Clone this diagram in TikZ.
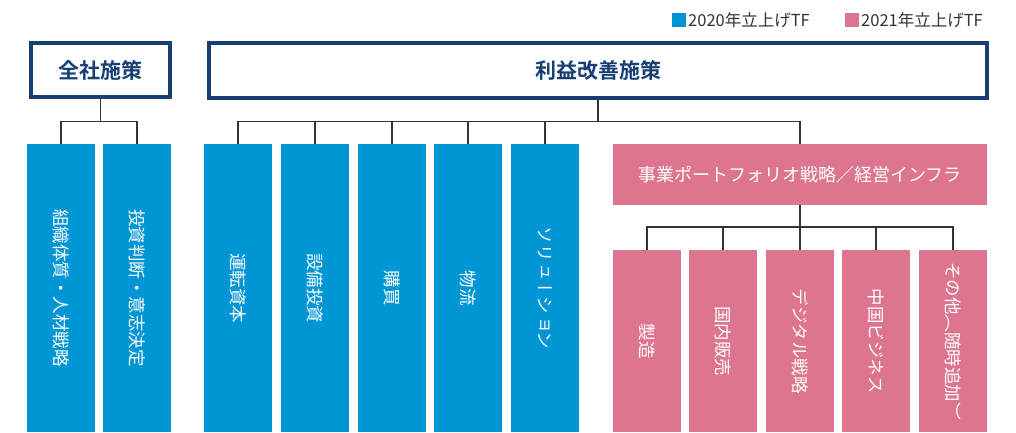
\documentclass[tikz,border=0pt]{standalone}
\usepackage{fontspec}
\usepackage{graphicx}
\setmainfont{Noto Sans CJK JP}
\newfontfamily\jp{Noto Sans CJK JP}
\newfontfamily\jpb{Noto Sans CJK JP Bold}
\newfontfamily\vjp[Vertical=RotatedGlyphs,RawFeature=+vert]{Noto Sans CJK JP}
\definecolor{tfblue}{HTML}{0096D6}
\definecolor{tfpink}{HTML}{DD758E}
\definecolor{navy}{HTML}{173F74}
\definecolor{linegray}{HTML}{333333}
\newcommand{\vtext}[1]{\rotatebox{-90}{\vjp\fontsize{17.5}{18}\selectfont #1}}
\begin{document}
\begin{tikzpicture}[x=1pt,y=-1pt,
  headbox/.style={draw=navy,line width=4pt,fill=white,inner sep=0pt,anchor=north west,
    font=\jpb\fontsize{21}{24}\selectfont,text=navy},
  bluebox/.style={fill=tfblue,inner sep=0pt,anchor=north west,text=white,
    minimum width=68pt},
  pinkbox/.style={fill=tfpink,inner sep=0pt,anchor=north west,text=white,
    minimum width=68pt},
  legendtext/.style={anchor=west,inner sep=0pt,font=\jp\fontsize{16.5}{18}\selectfont,text=linegray},
  conn/.style={draw=linegray,line width=1.8pt}]
\useasboundingbox (0,0) rectangle (1016,432);
% legend
\fill[tfblue] (672,13) rectangle (686,27);
\node[legendtext] (lg1) at (688,20) {2020年立上げTF};
\fill[tfpink] (845,13) rectangle (859,27);
\node[legendtext] (lg2) at (861,20) {2021年立上げTF};
% head boxes
\node[headbox,minimum width=139pt,minimum height=54pt] (zen) at (29,41) {全社施策};
\node[headbox,minimum width=778pt,minimum height=55pt] (rie) at (207,41) {利益改善施策};
% left blue boxes
\node[bluebox,minimum height=288pt] (a1) at (27,144) {\vtext{組織体質・人材戦略}};
\node[bluebox,minimum height=288pt] (a2) at (103,144) {\vtext{投資判断・意志決定}};
% middle blue boxes
\node[bluebox,minimum height=288pt] (b1) at (204,144) {\vtext{運転資本}};
\node[bluebox,minimum height=288pt] (b2) at (281,144) {\vtext{設備投資}};
\node[bluebox,minimum height=288pt] (b3) at (358,144) {\vtext{購買}};
\node[bluebox,minimum height=288pt] (b4) at (434,144) {\vtext{物流}};
\node[bluebox,minimum height=288pt] (b5) at (511,144) {\vtext{ソリューション}};
% pink
\node[pinkbox,minimum width=374pt,minimum height=61pt,font=\jp\fontsize{18}{20}\selectfont] (jig) at (613,144) {事業ポートフォリオ戦略／経営インフラ};
\node[pinkbox,minimum height=182pt] (c1) at (613,250) {\vtext{製造}};
\node[pinkbox,minimum height=182pt] (c2) at (689,250) {\vtext{国内販売}};
\node[pinkbox,minimum height=182pt] (c3) at (766,250) {\vtext{デジタル戦略}};
\node[pinkbox,minimum height=182pt] (c4) at (842,250) {\vtext{中国ビジネス}};
\node[pinkbox,minimum height=182pt] (c5) at (919,250) {\vtext{その他（随時追加）}};
% connectors
\draw[conn] (zen.south) -- (zen.south |- 0,121.5);
\draw[conn] (a1.north) -- (a1.north |- 0,121.5) -- (a2.north |- 0,121.5) -- (a2.north);
\draw[conn] (rie.south) -- (rie.south |- 0,121.5);
\draw[conn] (b1.north) -- (b1.north |- 0,121.5) -- (jig.north |- 0,121.5) -- (jig.north);
\foreach \n in {b2,b3,b4,b5} \draw[conn] (\n.north) -- (\n.north |- 0,121.5);
\draw[conn] (jig.south) -- (jig.south |- 0,227);
\draw[conn] (c1.north) -- (c1.north |- 0,227) -- (c5.north |- 0,227) -- (c5.north);
\foreach \n in {c2,c3,c4} \draw[conn] (\n.north) -- (\n.north |- 0,227);
\end{tikzpicture}
\end{document}
